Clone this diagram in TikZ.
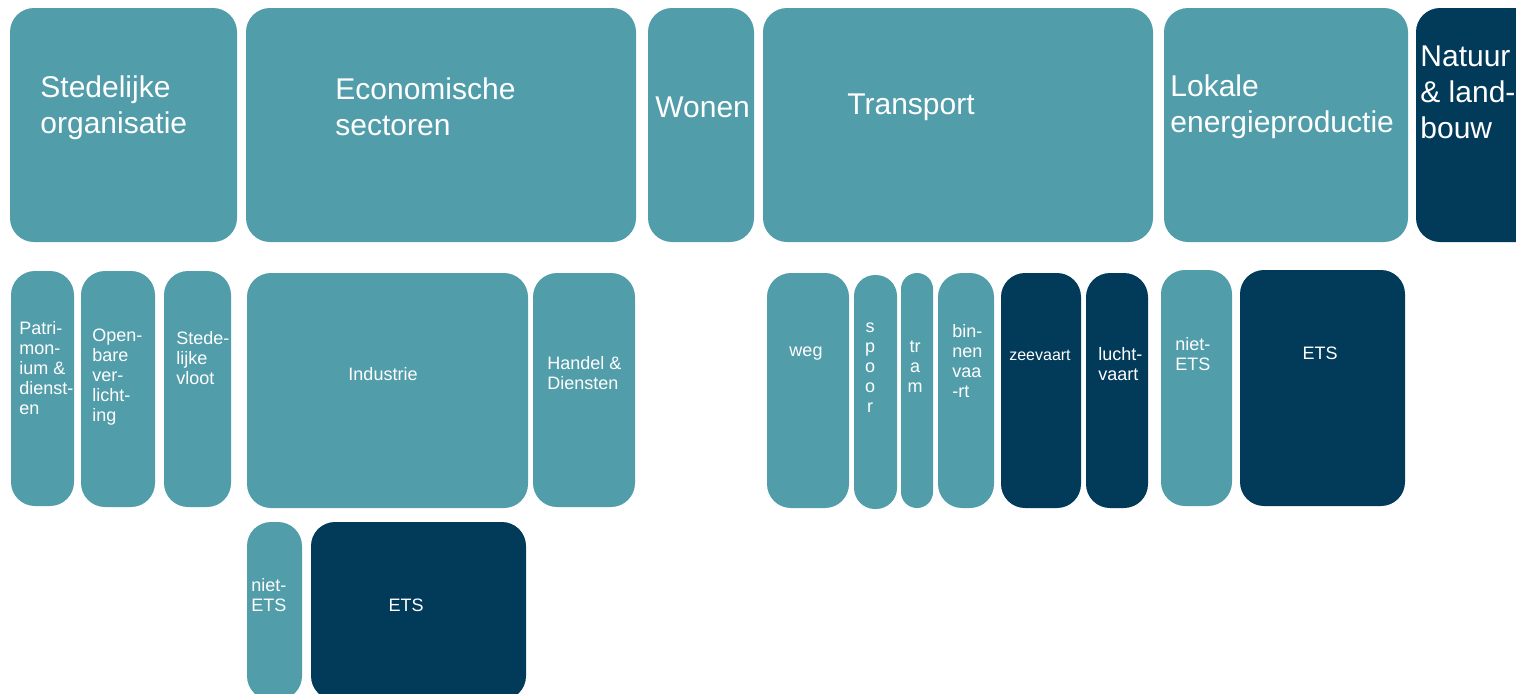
\documentclass[tikz,border=0pt]{standalone}
\usepackage{fontspec}
\setmainfont{Liberation Sans}
\definecolor{teal}{RGB}{82,157,170}
\definecolor{navy}{RGB}{2,58,90}
\begin{document}
\begin{tikzpicture}[x=0.5pt,y=-0.5pt,
  tb/.style={fill=teal,rounded corners=12pt},
  nb/.style={fill=navy,rounded corners=12pt},
  big/.style={text=white,inner sep=0pt,align=left,anchor=west,font=\fontsize{15}{18}\selectfont},
  sm/.style={text=white,inner sep=0pt,align=left,anchor=west,font=\fontsize{9}{10}\selectfont},
  smc/.style={sm,align=center,anchor=center}]
\useasboundingbox (0,0) rectangle (1516,693);
\clip (0,0) rectangle (1516,693);
% row 1
\fill[tb] (10,8) rectangle (237,242);
\fill[tb] (246,8) rectangle (636,242);
\fill[tb] (648,8) rectangle (754,242);
\fill[tb] (763,8) rectangle (1153,242);
\fill[tb] (1164,8) rectangle (1408,242);
\fill[nb] (1416,8) rectangle (1540,242);
\node[big] (sted) at (40,108) {Stedelijke\\organisatie};
\node[big] (econ) at (335,107) {Economische\\sectoren};
\node[big] (wonen) at (655,107) {Wonen};
\node[big] (transport) at (847,107) {Transport};
\node[big] (lokale) at (1170,107) {Lokale\\energieproductie};
\node[big] (natuur) at (1420,92) {Natuur\\\& land-\\bouw};
% row 2
\fill[tb] (11,271) rectangle (74,506);
\fill[tb] (81,271) rectangle (155,507);
\fill[tb] (164,271) rectangle (231,507);
\fill[tb] (247,273) rectangle (528,508);
\fill[tb] (533,273) rectangle (635,507);
\fill[tb] (767,273) rectangle (849,508);
\fill[tb,rounded corners=10.5pt] (854,275) rectangle (897,509);
\fill[tb,rounded corners=8pt] (901,273) rectangle (933,508);
\fill[tb] (938,273) rectangle (994,508);
\fill[nb] (1001,273) rectangle (1081,508);
\fill[nb] (1086,273) rectangle (1148,508);
\fill[tb] (1161,270) rectangle (1232,506);
\fill[nb] (1240,270) rectangle (1405,506);
\node[sm] (patri) at (19,368) {Patri-\\mon-\\ium \&\\dienst-\\en};
\node[sm] (open) at (92,377) {Open-\\bare\\ver-\\licht-\\ing};
\node[sm] (vloot) at (176,358) {Stede-\\lijke\\vloot};
\node[smc] (ind) at (383,374) {Industrie};
\node[sm] (handel) at (547,373) {Handel \&\\Diensten};
\node[smc] (weg) at (806,354) {weg};
\node[smc] (spoor) at (870,368) {s\\p\\o\\o\\r};
\node[smc] (tram) at (915,367) {tr\\a\\m};
\node[sm] (binnen) at (952,361) {bin-\\nen\\vaa\\-rt};
\node[smc,font=\fontsize{8}{10}\selectfont] (zee) at (1040,355) {zeevaart};
\node[sm] (lucht) at (1098,364) {lucht-\\vaart};
\node[sm] (nets1) at (1175,354) {niet-\\ETS};
\node[smc] (ets1) at (1320,353) {ETS};
% row 3
\fill[tb,rounded corners=12pt] (247,522) rectangle (302,700);
\fill[nb] (311,522) rectangle (526,700);
\node[sm] (nets2) at (251,595) {niet-\\ETS};
\node[smc] (ets2) at (406,605) {ETS};
\end{tikzpicture}
\end{document}
